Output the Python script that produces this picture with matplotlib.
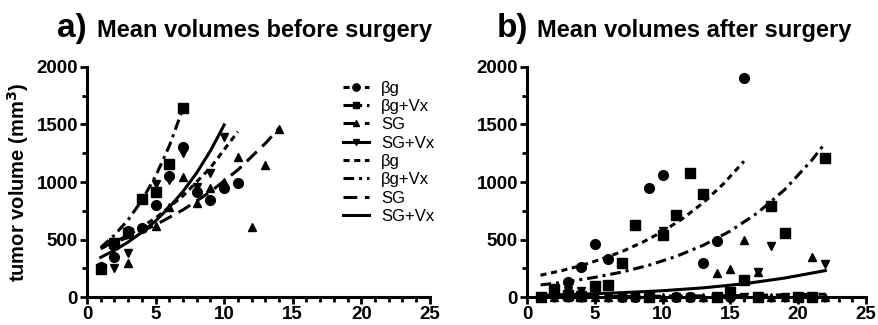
import matplotlib
matplotlib.use('Agg')
import matplotlib.pyplot as plt
from matplotlib.lines import Line2D
from matplotlib.ticker import MultipleLocator

plt.rcParams['font.family'] = ['Liberation Sans', 'DejaVu Sans']

GROUPS = ['βg', 'βg+Vx', 'SG', 'SG+Vx']
MARKERS = ['o', 's', '^', 'v']
MSIZE = [7, 6.5, 6, 6]
DASHES = [(2, 1.5), (3.5, 1.6, 1, 1.6), (4.5, 2.5), None]

# a) before surgery - group means per day
before_x = [list(range(1, 12)), list(range(1, 8)), list(range(1, 15)), list(range(1, 11))]
before_y = [
    [265, 350, 570, 600, 800, 1050, 1300, 910, 845, 945, 990],
    [240, 470, 560, 850, 910, 1160, 1640],
    [250, 450, 295, 610, 620, 780, 1040, 820, 950, 1000, 1220, 610, 1150, 1460],
    [250, 250, 380, 590, 980, 1020, 1250, 960, 1080, 1390],
]
# fitted curves, values
before_fit_x = [
    [1, 3, 5, 7, 9, 11],
    [1, 2, 3, 4, 5, 6, 7],
    [1, 3, 5, 7, 9, 11, 13, 14],
    [1, 2, 3, 4, 5, 6, 7, 8, 9, 10],
]
before_fit_y = [
    [420, 537, 687, 879, 1124, 1438],
    [430, 538, 672, 840, 1050, 1313, 1640],
    [430, 519, 627, 758, 915, 1105, 1335, 1467],
    [345, 406, 478, 563, 662, 780, 918, 1080, 1271, 1496],
]

# b) after surgery
after_x = [list(range(1, 17)), list(range(1, 23)), list(range(1, 23)), list(range(1, 23))]
after_y = [
    [0, 70, 135, 260, 462, 330, 0, 0, 945, 1060, 0, 0, 300, 490, 0, 1900],
    [0, 70, 20, 10, 100, 105, 295, 630, 0, 540, 710, 1080, 900, 0, 40, 150, 0, 790, 555, 0, 0, 1205],
    [0, 0, 0, 0, 0, 0, 0, 0, 0, 0, 0, 0, 0, 210, 245, 500, 220, 0, 0, 0, 346, 0],
    [0, 30, 50, 55, 0, 0, 0, 0, 0, 570, 0, 0, 890, 0, 0, 0, 220, 440, 0, 0, 0, 290],
]
after_fit_x = [
    [1, 2.5, 4, 5.5, 7, 8.5, 10, 11.5, 13, 14.5, 16],
    [1, 3, 5, 7, 9, 11, 13, 15, 17, 19, 21, 22],
    [1, 8, 15, 22],
    [1, 4, 7, 10, 13, 16, 19, 22],
]
after_fit_y = [
    [190, 228, 274, 330, 395, 475, 569, 684, 820, 985, 1180],
    [105, 134, 171, 217, 277, 353, 450, 574, 731, 933, 1189, 1340],
    [3, 6, 12, 25],
    [15, 25, 38, 55, 80, 115, 165, 230],
]


def style_axes(ax):
    for side in ['top', 'right']:
        ax.spines[side].set_visible(False)
    for side in ['left', 'bottom']:
        ax.spines[side].set_linewidth(2.2)
    ax.set_xlim(0, 25)
    ax.set_ylim(0, 2000)
    ax.xaxis.set_major_locator(MultipleLocator(5))
    ax.xaxis.set_minor_locator(MultipleLocator(1))
    ax.yaxis.set_major_locator(MultipleLocator(500))
    ax.yaxis.set_minor_locator(MultipleLocator(250))
    ax.tick_params(which='major', direction='out', length=5, width=2, labelsize=13.5, pad=1.5)
    ax.tick_params(which='minor', direction='out', length=3.5, width=2)
    for lab in ax.get_xticklabels() + ax.get_yticklabels():
        lab.set_fontweight('bold')


def draw(ax, xs, ys, fxs, fys):
    for i in range(4):
        ax.plot(xs[i], ys[i], ls='none', marker=MARKERS[i], ms=MSIZE[i],
                color='black', clip_on=False, zorder=3)
        ls = '-' if DASHES[i] is None else (0, DASHES[i])
        ax.plot(fxs[i], fys[i], color='black', lw=2.2, ls=ls, zorder=2)


fig = plt.figure(figsize=(8.79, 3.25), dpi=100)
ax1 = fig.add_axes([0.099, 0.086, 0.390, 0.708])
ax2 = fig.add_axes([0.5995, 0.086, 0.3857, 0.708])

draw(ax1, before_x, before_y, before_fit_x, before_fit_y)
draw(ax2, after_x, after_y, after_fit_x, after_fit_y)
style_axes(ax1)
style_axes(ax2)

ax1.set_ylabel('tumor volume (mm$^\\mathbf{3}$)', fontsize=14.5, fontweight='bold')
ax1.yaxis.set_label_coords(-0.163, 0.5)

fig.text(0.065, 0.886, 'a)', fontsize=24, fontweight='bold', va='baseline')
fig.text(0.110, 0.886, 'Mean volumes before surgery', fontsize=17, fontweight='bold', va='baseline')
fig.text(0.565, 0.886, 'b)', fontsize=24, fontweight='bold', va='baseline')
fig.text(0.611, 0.886, 'Mean volumes after surgery', fontsize=17, fontweight='bold', va='baseline')

handles = []
for i in range(4):
    ls = '-' if DASHES[i] is None else (0, DASHES[i])
    handles.append(Line2D([], [], color='black', lw=2.2, ls=ls, marker=MARKERS[i], ms=MSIZE[i] * 0.75))
for i in range(4):
    ls = '-' if DASHES[i] is None else (0, DASHES[i])
    handles.append(Line2D([], [], color='black', lw=2.2, ls=ls))
ax1.legend(handles, GROUPS + GROUPS, loc='upper left', bbox_to_anchor=(336 / 879, 1 - 74 / 325),
           bbox_transform=fig.transFigure, frameon=False, fontsize=12, handlelength=1.6,
           handletextpad=0.7, labelspacing=0.2, borderaxespad=0)

fig.savefig('out.png', dpi=100)
